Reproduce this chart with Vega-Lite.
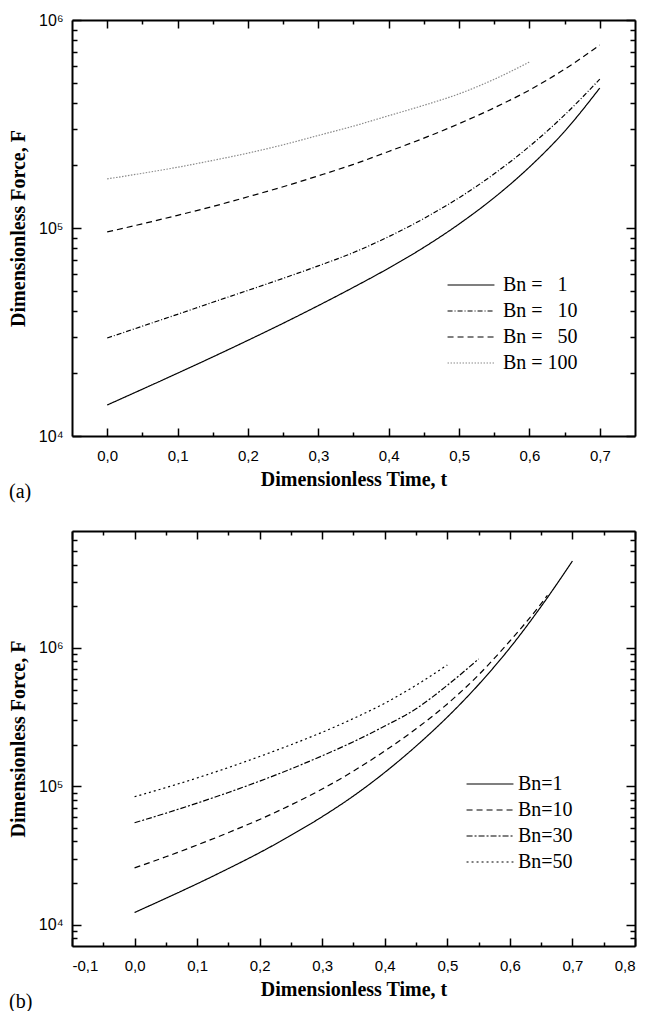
{
  "$schema": "https://vega.github.io/schema/vega-lite/v6.json",
  "background": "white",
  "padding": {"left": 8, "top": 12, "right": 5, "bottom": 2},
  "bounds": "flush",
  "spacing": 95,
  "resolve": {"scale": {"strokeDash": "independent", "color": "independent"}, "legend": {"strokeDash": "independent", "color": "independent"}},
  "config": {
    "view": {"stroke": null},
    "axis": {
      "grid": false,
      "domainColor": "black",
      "domainWidth": 2,
      "tickColor": "black",
      "tickWidth": 1.5,
      "labelFont": "Liberation Sans",
      "labelFontSize": 15,
      "labelColor": "black",
      "titleFont": "Liberation Serif",
      "titleFontSize": 20,
      "titleFontWeight": "bold",
      "titleColor": "black"
    },
    "legend": {
      "symbolType": "M-5,0H5",
      "symbolSize": 88,
      "symbolStrokeWidth": 1.2,
      "labelFont": "Liberation Serif",
      "labelFontSize": 20,
      "labelFontWeight": "normal",
      "labelColor": "black",
      "labelOffset": 22,
      "rowPadding": 6
    },
    "title": {"font": "Liberation Serif", "fontSize": 20, "fontWeight": "normal", "color": "black"}
  },
  "datasets": {
    "a": [
      {"t": 0.0, "F": 14090, "Bn": "1"},
      {"t": 0.05, "F": 16790, "Bn": "1"},
      {"t": 0.1, "F": 20040, "Bn": "1"},
      {"t": 0.15, "F": 23990, "Bn": "1"},
      {"t": 0.2, "F": 28840, "Bn": "1"},
      {"t": 0.25, "F": 34830, "Bn": "1"},
      {"t": 0.3, "F": 42360, "Bn": "1"},
      {"t": 0.35, "F": 51880, "Bn": "1"},
      {"t": 0.4, "F": 64120, "Bn": "1"},
      {"t": 0.45, "F": 80720, "Bn": "1"},
      {"t": 0.5, "F": 104500, "Bn": "1"},
      {"t": 0.55, "F": 140000, "Bn": "1"},
      {"t": 0.6, "F": 196300, "Bn": "1"},
      {"t": 0.65, "F": 291700, "Bn": "1"},
      {"t": 0.7, "F": 471000, "Bn": "1"},
      {"t": 0.0, "F": 29580, "Bn": "10"},
      {"t": 0.05, "F": 33730, "Bn": "10"},
      {"t": 0.1, "F": 38460, "Bn": "10"},
      {"t": 0.15, "F": 43950, "Bn": "10"},
      {"t": 0.2, "F": 50120, "Bn": "10"},
      {"t": 0.25, "F": 57280, "Bn": "10"},
      {"t": 0.3, "F": 65770, "Bn": "10"},
      {"t": 0.35, "F": 76210, "Bn": "10"},
      {"t": 0.4, "F": 90900, "Bn": "10"},
      {"t": 0.45, "F": 111100, "Bn": "10"},
      {"t": 0.5, "F": 139800, "Bn": "10"},
      {"t": 0.55, "F": 182200, "Bn": "10"},
      {"t": 0.6, "F": 246900, "Bn": "10"},
      {"t": 0.65, "F": 349600, "Bn": "10"},
      {"t": 0.7, "F": 520000, "Bn": "10"},
      {"t": 0.0, "F": 95720, "Bn": "50"},
      {"t": 0.05, "F": 104700, "Bn": "50"},
      {"t": 0.1, "F": 115100, "Bn": "50"},
      {"t": 0.15, "F": 126900, "Bn": "50"},
      {"t": 0.2, "F": 141300, "Bn": "50"},
      {"t": 0.25, "F": 157900, "Bn": "50"},
      {"t": 0.3, "F": 178200, "Bn": "50"},
      {"t": 0.35, "F": 202300, "Bn": "50"},
      {"t": 0.4, "F": 233300, "Bn": "50"},
      {"t": 0.45, "F": 270400, "Bn": "50"},
      {"t": 0.5, "F": 317400, "Bn": "50"},
      {"t": 0.55, "F": 378400, "Bn": "50"},
      {"t": 0.6, "F": 460300, "Bn": "50"},
      {"t": 0.65, "F": 580100, "Bn": "50"},
      {"t": 0.7, "F": 757600, "Bn": "50"},
      {"t": 0.0, "F": 172200, "Bn": "100"},
      {"t": 0.05, "F": 183200, "Bn": "100"},
      {"t": 0.1, "F": 195900, "Bn": "100"},
      {"t": 0.15, "F": 211300, "Bn": "100"},
      {"t": 0.2, "F": 229100, "Bn": "100"},
      {"t": 0.25, "F": 251200, "Bn": "100"},
      {"t": 0.3, "F": 278600, "Bn": "100"},
      {"t": 0.35, "F": 309000, "Bn": "100"},
      {"t": 0.4, "F": 346700, "Bn": "100"},
      {"t": 0.45, "F": 389000, "Bn": "100"},
      {"t": 0.5, "F": 441600, "Bn": "100"},
      {"t": 0.55, "F": 518800, "Bn": "100"},
      {"t": 0.6, "F": 628100, "Bn": "100"}
    ],
    "b": [
      {"t": 0.0, "F": 12220, "Bn": "1"},
      {"t": 0.05, "F": 15490, "Bn": "1"},
      {"t": 0.1, "F": 19720, "Bn": "1"},
      {"t": 0.15, "F": 25410, "Bn": "1"},
      {"t": 0.2, "F": 33110, "Bn": "1"},
      {"t": 0.25, "F": 44160, "Bn": "1"},
      {"t": 0.3, "F": 60260, "Bn": "1"},
      {"t": 0.35, "F": 85110, "Bn": "1"},
      {"t": 0.4, "F": 125900, "Bn": "1"},
      {"t": 0.45, "F": 195000, "Bn": "1"},
      {"t": 0.5, "F": 316200, "Bn": "1"},
      {"t": 0.55, "F": 543300, "Bn": "1"},
      {"t": 0.6, "F": 1000000, "Bn": "1"},
      {"t": 0.65, "F": 1995000, "Bn": "1"},
      {"t": 0.7, "F": 4246000, "Bn": "1"},
      {"t": 0.0, "F": 25700, "Bn": "10"},
      {"t": 0.05, "F": 30900, "Bn": "10"},
      {"t": 0.1, "F": 37580, "Bn": "10"},
      {"t": 0.15, "F": 46240, "Bn": "10"},
      {"t": 0.2, "F": 57540, "Bn": "10"},
      {"t": 0.25, "F": 73280, "Bn": "10"},
      {"t": 0.3, "F": 95500, "Bn": "10"},
      {"t": 0.35, "F": 128800, "Bn": "10"},
      {"t": 0.4, "F": 179900, "Bn": "10"},
      {"t": 0.45, "F": 260000, "Bn": "10"},
      {"t": 0.5, "F": 393600, "Bn": "10"},
      {"t": 0.55, "F": 638300, "Bn": "10"},
      {"t": 0.6, "F": 1122000, "Bn": "10"},
      {"t": 0.65, "F": 2089000, "Bn": "10"},
      {"t": 0.66, "F": 2399000, "Bn": "10"},
      {"t": 0.0, "F": 54450, "Bn": "30"},
      {"t": 0.05, "F": 63830, "Bn": "30"},
      {"t": 0.1, "F": 75510, "Bn": "30"},
      {"t": 0.15, "F": 90160, "Bn": "30"},
      {"t": 0.2, "F": 108900, "Bn": "30"},
      {"t": 0.25, "F": 133400, "Bn": "30"},
      {"t": 0.3, "F": 166000, "Bn": "30"},
      {"t": 0.35, "F": 209900, "Bn": "30"},
      {"t": 0.4, "F": 272300, "Bn": "30"},
      {"t": 0.45, "F": 363100, "Bn": "30"},
      {"t": 0.5, "F": 537000, "Bn": "30"},
      {"t": 0.55, "F": 831800, "Bn": "30"},
      {"t": 0.0, "F": 83950, "Bn": "50"},
      {"t": 0.05, "F": 97720, "Bn": "50"},
      {"t": 0.1, "F": 114800, "Bn": "50"},
      {"t": 0.15, "F": 136500, "Bn": "50"},
      {"t": 0.2, "F": 164100, "Bn": "50"},
      {"t": 0.25, "F": 199500, "Bn": "50"},
      {"t": 0.3, "F": 245500, "Bn": "50"},
      {"t": 0.35, "F": 309000, "Bn": "50"},
      {"t": 0.4, "F": 398100, "Bn": "50"},
      {"t": 0.45, "F": 537000, "Bn": "50"},
      {"t": 0.5, "F": 753400, "Bn": "50"}
    ]
  },
  "vconcat": [
    {
      "width": 563,
      "height": 416,
      "title": {"text": "(a)", "orient": "bottom", "anchor": "start", "frame": "group", "dx": -63, "offset": -7},
      "resolve": {"axis": {"x": "independent", "y": "independent"}},
      "layer": [
        {
          "data": {"name": "a"},
          "mark": {"type": "line", "strokeWidth": 1.2, "interpolate": "monotone"},
          "encoding": {
            "x": {"field": "t", "type": "quantitative",
              "scale": {"domain": [-0.05, 0.75], "nice": false, "zero": false},
              "axis": {"orient": "bottom", "values": [0, 0.1, 0.2, 0.3, 0.4, 0.5, 0.6, 0.7], "tickSize": -8, "labelPadding": 20,
                "labelExpr": "replace(format(datum.value, '.1f'), '.', ',')", "title": "Dimensionless Time, t", "titlePadding": 6}},
            "y": {"field": "F", "type": "quantitative",
              "scale": {"type": "log", "domain": [10000, 1000000], "nice": false},
              "axis": {"orient": "left", "values": [10000, 100000, 1000000], "tickSize": -9, "labelPadding": 18, "labelFontSize": 16,
                "labelExpr": "datum.value == 10000 ? '10⁴' : datum.value == 100000 ? '10⁵' : '10⁶'", "title": "Dimensionless Force, F", "titlePadding": 10}},
            "strokeDash": {"field": "Bn", "type": "nominal",
              "scale": {"domain": ["1", "10", "50", "100"], "range": [[1, 0], [5, 2, 1, 2], [6, 4], [1.5, 1.5]]},
              "legend": {"orient": "none", "legendX": 389, "legendY": 255, "title": null,
                "labelExpr": "datum.label == '1' ? 'Bn = \u20071' : datum.label == '10' ? 'Bn = \u200710' : datum.label == '50' ? 'Bn = \u200750' : 'Bn = 100'"}},
            "color": {"field": "Bn", "type": "nominal",
              "scale": {"domain": ["1", "10", "50", "100"], "range": ["black", "black", "black", "#8a8a8a"]},
              "legend": {"orient": "none", "legendX": 389, "legendY": 255, "title": null,
                "labelExpr": "datum.label == '1' ? 'Bn = \u20071' : datum.label == '10' ? 'Bn = \u200710' : datum.label == '50' ? 'Bn = \u200750' : 'Bn = 100'"}}
          }
        },
        {
          "data": {"name": "a"},
          "mark": {"type": "point", "opacity": 0},
          "encoding": {
            "x": {"field": "t", "type": "quantitative",
              "scale": {"domain": [-0.05, 0.75], "nice": false, "zero": false},
              "axis": {"orient": "bottom", "values": [0.05, 0.15, 0.25, 0.35, 0.45, 0.55, 0.65], "tickSize": -4, "labels": false, "domain": false, "title": null}},
            "y": {"field": "F", "type": "quantitative",
              "scale": {"type": "log", "domain": [10000, 1000000], "nice": false},
              "axis": {"orient": "left", "values": [20000, 30000, 40000, 50000, 60000, 70000, 80000, 90000, 200000, 300000, 400000, 500000, 600000, 700000, 800000, 900000], "tickSize": -5, "labels": false, "domain": false, "title": null}}
          }
        },
        {
          "data": {"name": "a"},
          "mark": {"type": "point", "opacity": 0},
          "encoding": {
            "x": {"field": "t", "type": "quantitative",
              "scale": {"domain": [-0.05, 0.75], "nice": false, "zero": false},
              "axis": {"orient": "top", "values": [0, 0.1, 0.2, 0.3, 0.4, 0.5, 0.6, 0.7], "tickSize": -8, "labels": false, "title": null}},
            "y": {"field": "F", "type": "quantitative",
              "scale": {"type": "log", "domain": [10000, 1000000], "nice": false},
              "axis": {"orient": "right", "values": [10000, 100000, 1000000], "tickSize": -9, "labels": false, "title": null}}
          }
        },
        {
          "data": {"name": "a"},
          "mark": {"type": "point", "opacity": 0},
          "encoding": {
            "x": {"field": "t", "type": "quantitative",
              "scale": {"domain": [-0.05, 0.75], "nice": false, "zero": false},
              "axis": {"orient": "top", "values": [0.05, 0.15, 0.25, 0.35, 0.45, 0.55, 0.65], "tickSize": -4, "labels": false, "domain": false, "title": null}},
            "y": {"field": "F", "type": "quantitative",
              "scale": {"type": "log", "domain": [10000, 1000000], "nice": false},
              "axis": {"orient": "right", "values": [20000, 30000, 40000, 50000, 60000, 70000, 80000, 90000, 200000, 300000, 400000, 500000, 600000, 700000, 800000, 900000], "tickSize": -5, "labels": false, "domain": false, "title": null}}
          }
        }
      ]
    },
    {
      "width": 563,
      "height": 415,
      "title": {"text": "(b)", "orient": "bottom", "anchor": "start", "frame": "group", "dx": -63, "offset": -7},
      "resolve": {"axis": {"x": "independent", "y": "independent"}},
      "layer": [
        {
          "data": {"name": "b"},
          "mark": {"type": "line", "strokeWidth": 1.2, "interpolate": "monotone", "color": "black"},
          "encoding": {
            "x": {"field": "t", "type": "quantitative",
              "scale": {"domain": [-0.1, 0.8], "nice": false, "zero": false},
              "axis": {"orient": "bottom", "values": [-0.1, 0, 0.1, 0.2, 0.3, 0.4, 0.5, 0.6, 0.7, 0.8], "tickSize": -8, "labelPadding": 20,
                "labelExpr": "replace(replace(format(datum.value, '.1f'), '.', ','), '−', '-')", "title": "Dimensionless Time, t", "titlePadding": 6}},
            "y": {"field": "F", "type": "quantitative",
              "scale": {"type": "log", "domain": [7000, 7000000], "nice": false},
              "axis": {"orient": "left", "values": [10000, 100000, 1000000], "tickSize": -9, "labelPadding": 18, "labelFontSize": 16,
                "labelExpr": "datum.value == 10000 ? '10⁴' : datum.value == 100000 ? '10⁵' : '10⁶'", "title": "Dimensionless Force, F", "titlePadding": 10}},
            "strokeDash": {"field": "Bn", "type": "nominal",
              "scale": {"domain": ["1", "10", "30", "50"], "range": [[1, 0], [6, 4], [6, 2, 2, 2], [2, 3]]},
              "legend": {"orient": "none", "legendX": 408, "legendY": 243, "title": null, "symbolStrokeColor": "black", "labelOffset": 18, "labelExpr": "'Bn=' + datum.label"}}
          }
        },
        {
          "data": {"name": "b"},
          "mark": {"type": "point", "opacity": 0},
          "encoding": {
            "x": {"field": "t", "type": "quantitative",
              "scale": {"domain": [-0.1, 0.8], "nice": false, "zero": false},
              "axis": {"orient": "bottom", "values": [-0.05, 0.05, 0.15, 0.25, 0.35, 0.45, 0.55, 0.65, 0.75], "tickSize": -4, "labels": false, "domain": false, "title": null}},
            "y": {"field": "F", "type": "quantitative",
              "scale": {"type": "log", "domain": [7000, 7000000], "nice": false},
              "axis": {"orient": "left", "values": [8000, 9000, 20000, 30000, 40000, 50000, 60000, 70000, 80000, 90000, 200000, 300000, 400000, 500000, 600000, 700000, 800000, 900000, 2000000, 3000000, 4000000, 5000000, 6000000], "tickSize": -5, "labels": false, "domain": false, "title": null}}
          }
        },
        {
          "data": {"name": "b"},
          "mark": {"type": "point", "opacity": 0},
          "encoding": {
            "x": {"field": "t", "type": "quantitative",
              "scale": {"domain": [-0.1, 0.8], "nice": false, "zero": false},
              "axis": {"orient": "top", "values": [-0.1, 0, 0.1, 0.2, 0.3, 0.4, 0.5, 0.6, 0.7, 0.8], "tickSize": -8, "labels": false, "title": null}},
            "y": {"field": "F", "type": "quantitative",
              "scale": {"type": "log", "domain": [7000, 7000000], "nice": false},
              "axis": {"orient": "right", "values": [10000, 100000, 1000000], "tickSize": -9, "labels": false, "title": null}}
          }
        },
        {
          "data": {"name": "b"},
          "mark": {"type": "point", "opacity": 0},
          "encoding": {
            "x": {"field": "t", "type": "quantitative",
              "scale": {"domain": [-0.1, 0.8], "nice": false, "zero": false},
              "axis": {"orient": "top", "values": [-0.05, 0.05, 0.15, 0.25, 0.35, 0.45, 0.55, 0.65, 0.75], "tickSize": -4, "labels": false, "domain": false, "title": null}},
            "y": {"field": "F", "type": "quantitative",
              "scale": {"type": "log", "domain": [7000, 7000000], "nice": false},
              "axis": {"orient": "right", "values": [8000, 9000, 20000, 30000, 40000, 50000, 60000, 70000, 80000, 90000, 200000, 300000, 400000, 500000, 600000, 700000, 800000, 900000, 2000000, 3000000, 4000000, 5000000, 6000000], "tickSize": -5, "labels": false, "domain": false, "title": null}}
          }
        }
      ]
    }
  ]
}
